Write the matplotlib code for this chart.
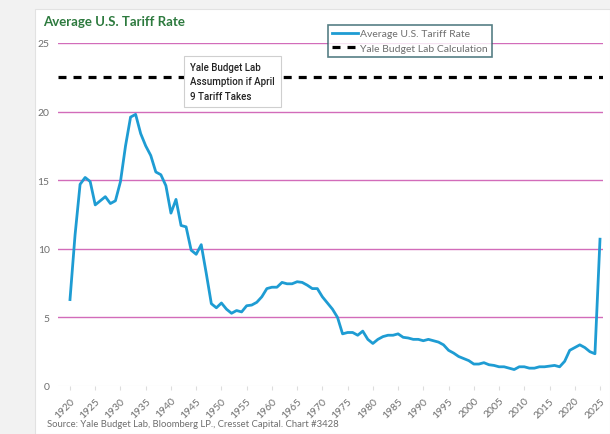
import matplotlib
matplotlib.use("Agg")
import matplotlib.pyplot as plt
from matplotlib.patches import Rectangle

# ------------------- data -------------------
years = list(range(1920, 2026))
tariff = [
    6.3, 11.0, 14.7, 15.2, 14.9, 13.2, 13.5, 13.8, 13.3, 13.5,   # 1920s
    14.9, 17.5, 19.6, 19.8, 18.4, 17.5, 16.8, 15.6, 15.4, 14.6,  # 1930s
    12.6, 13.6, 11.7, 11.6, 9.9, 9.6, 10.3, 8.2, 6.0, 5.7,       # 1940s
    6.05, 5.6, 5.3, 5.5, 5.4, 5.85, 5.9, 6.1, 6.5, 7.1,          # 1950s
    7.2, 7.2, 7.55, 7.45, 7.45, 7.6, 7.55, 7.35, 7.1, 7.1,       # 1960s
    6.5, 6.05, 5.6, 5.0, 3.8, 3.9, 3.9, 3.7, 4.0, 3.4,           # 1970s
    3.1, 3.4, 3.6, 3.7, 3.7, 3.8, 3.55, 3.5, 3.4, 3.4,           # 1980s
    3.3, 3.4, 3.3, 3.2, 3.0, 2.6, 2.4, 2.15, 2.0, 1.85,          # 1990s
    1.6, 1.6, 1.7, 1.55, 1.5, 1.4, 1.4, 1.3, 1.2, 1.4,           # 2000s
    1.4, 1.3, 1.3, 1.4, 1.4, 1.45, 1.5, 1.4, 1.8, 2.6,           # 2010s
    2.8, 3.0, 2.8, 2.5, 2.35, 10.7,                              # 2020s
]
yale_calc = 22.5
yticks = [0, 5, 10, 15, 20, 25]
xticks = list(range(1920, 2030, 5))

title = "Average U.S. Tariff Rate"
note = "Yale Budget Lab\nAssumption if April\n9 Tariff Takes"
source = "Source: Yale Budget Lab, Bloomberg LP., Cresset Capital. Chart #3428"

# ------------------- style -------------------
W, H = 610, 435
BLUE = "#1e9cd3"
PINK = "#d26cba"
GRAY = "#6e6e6e"
GREEN = "#2d7a3e"

plt.rcParams["font.family"] = ["Lato", "DejaVu Sans"]

fig = plt.figure(figsize=(W / 100, H / 100), dpi=100)
fig.patch.set_facecolor("#f2f2f2")
# white card behind everything
fig.patches.append(Rectangle((35 / W, 0), 1 - 35 / W, 1 - 10 / H,
                             transform=fig.transFigure, facecolor="white",
                             edgecolor="#e2e2e2", lw=0.8, zorder=-5))

ax = fig.add_axes([58 / W, 1 - 387 / H, 545 / W, 343 / H], zorder=1)
ax.set_facecolor("none")

for v in yticks[1:]:
    ax.axhline(v, color=PINK, lw=1.0, zorder=1)
ax.axhline(0, color="#e6e6e6", lw=0.8, zorder=1)

ax.axhline(yale_calc, color="black", lw=2.3, ls=(0, (2.5, 2.2)), zorder=2,
           label="Yale Budget Lab Calculation")
ax.plot(years, tariff, color=BLUE, lw=2.0, zorder=3,
        label="Average U.S. Tariff Rate", solid_joinstyle="round")

ax.set_xlim(1920 - 12 / 5.05, 2025 + 3 / 5.05)
ax.set_ylim(0, 25)
ax.set_yticks(yticks)
ax.set_xticks(xticks)
ax.set_xticklabels([str(x) for x in xticks], rotation=45, ha="right",
                   rotation_mode="anchor")
ax.tick_params(axis="y", length=0, pad=6, labelsize=7.5, labelcolor=GRAY)
ax.tick_params(axis="x", length=3, color="#dddddd", pad=4, labelsize=7.5,
               labelcolor=GRAY)
for s in ax.spines.values():
    s.set_visible(False)

# legend (order: solid then dashed)
h, l = ax.get_legend_handles_labels()
leg = fig.legend(h[::-1], l[::-1], loc="upper left",
                 bbox_to_anchor=(328 / W, 1 - 26 / H), fontsize=7.5,
                 frameon=True, fancybox=False, handlelength=2.5,
                 handletextpad=0.2, borderpad=0.4, labelspacing=0.5,
                 borderaxespad=0)
leg.set_zorder(6)
leg.get_frame().set_edgecolor("#2b5f66")
leg.get_frame().set_linewidth(1.2)
for t in leg.get_texts():
    t.set_color(GRAY)

# annotation box
fig.text(190 / W, 1 - 63 / H, note, ha="left", va="top", fontsize=7.0,
         color="#222222", linespacing=1.55, fontweight="medium",
         family=["Roboto", "DejaVu Sans"],
         bbox=dict(boxstyle="square,pad=0.6", facecolor="white",
                   edgecolor="#cfcfcf", lw=0.8), zorder=5)

fig.text(43 / W, 1 - 22 / H, title, ha="left", va="center", fontsize=9.5,
         fontweight="bold", color=GREEN)
fig.text(47 / W, 1 - 425 / H, source, ha="left", va="center", fontsize=6.8,
         color=GRAY)

fig.savefig("out.png", dpi=100, facecolor=fig.get_facecolor())
